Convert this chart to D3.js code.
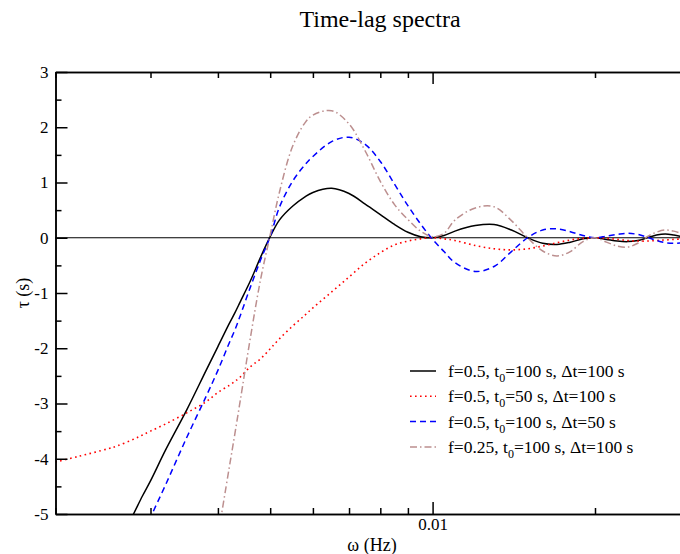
<!DOCTYPE html>
<meta charset="utf-8">
<style>

body {
  margin: 0;
  background: #fff;
}

svg text {
  font-family: "Liberation Serif", "Times New Roman", serif;
  fill: #000;
}

.axis path,
.axis line {
  stroke: #000;
  stroke-width: 1.5px;
}

.curve {
  fill: none;
}

</style>
<body><svg width="680" height="554"></svg></body>
<script src="https://d3js.org/d3.v7.min.js"></script>
<script>

// frequency grid (Hz) and lags (s); null = off the chart
var omega = [0.002, 0.0022, 0.0025, 0.0026, 0.0028, 0.0029, 0.003, 0.0032, 0.0035, 0.0038,
  0.004, 0.0042, 0.0043, 0.0044, 0.0046, 0.0048, 0.005, 0.0052, 0.0055, 0.0058,
  0.006, 0.0065, 0.007, 0.0075, 0.008, 0.0085, 0.009, 0.0095, 0.01, 0.0105,
  0.011, 0.012, 0.013, 0.014, 0.015, 0.016, 0.017, 0.018, 0.019, 0.02,
  0.021, 0.022, 0.023, 0.024, 0.025, 0.026, 0.027, 0.028, 0.029];

var tauA = [null, null, null, -5.6, -4.97, -4.67, -4.40, -3.84, -3.12, -2.41,
  -1.97, -1.55, -1.36, -1.16, -0.77, -0.35, 0.02, 0.32, 0.57, 0.74,
  0.82, 0.895, 0.80, 0.61, 0.42, 0.24, 0.10, 0.02, 0.0, 0.04,
  0.12, 0.22, 0.24, 0.14, 0.0, -0.10, -0.12, -0.08, -0.02, 0.0,
  -0.03, -0.06, -0.07, -0.05, 0.0, 0.05, 0.07, 0.05, 0.02];

var tauB = [-4.06, -3.96, -3.82, -3.77, -3.64, -3.57, -3.50, -3.37, -3.17, -2.97,
  -2.80, -2.67, -2.60, -2.52, -2.33, -2.19, -2.01, -1.83, -1.60, -1.40,
  -1.27, -0.98, -0.71, -0.46, -0.27, -0.13, -0.06, -0.02, 0.0, -0.02,
  -0.05, -0.14, -0.20, -0.22, -0.20, -0.15, -0.09, -0.04, -0.01, 0.0,
  -0.01, -0.03, -0.05, -0.06, -0.06, -0.05, -0.04, -0.03, -0.02];

var tauC = [null, null, null, null, null, -5.45, -5.07, -4.47, -3.62, -2.88,
  -2.40, -1.90, -1.67, -1.41, -0.88, -0.40, 0.02, 0.55, 1.02, 1.32,
  1.47, 1.74, 1.82, 1.69, 1.38, 0.97, 0.58, 0.25, -0.03, -0.25,
  -0.45, -0.61, -0.52, -0.25, 0.0, 0.14, 0.16, 0.11, 0.04, 0.0,
  0.03, 0.06, 0.08, 0.06, 0.01, -0.05, -0.09, -0.10, -0.09];

var tauD = [null, null, null, null, null, null, null, null, null, null,
  -5.40, -4.15, -3.55, -2.95, -1.78, -0.75, 0.05, 0.82, 1.65, 2.08,
  2.22, 2.30, 2.06, 1.57, 1.02, 0.60, 0.33, 0.12, 0.02, 0.08,
  0.32, 0.54, 0.56, 0.31, 0.0, -0.24, -0.33, -0.25, -0.07, 0.0,
  -0.08, -0.15, -0.17, -0.10, 0.02, 0.10, 0.14, 0.12, 0.07];

var labels = ["f=0.5, t|0|=100 s, \u0394t=100 s",
  "f=0.5, t|0|=50 s, \u0394t=100 s",
  "f=0.5, t|0|=100 s, \u0394t=50 s",
  "f=0.25, t|0|=100 s, \u0394t=100 s"];

var yTicks = [-5, -4, -3, -2, -1, 0, 1, 2, 3];
var yMinor = [-4.5, -3.5, -2.5, -1.5, -0.5, 0.5, 1.5, 2.5];
var xMajor = [0.01];
var xMinor = [0.002, 0.003, 0.004, 0.005, 0.006, 0.007, 0.008, 0.009, 0.02, 0.03];

var series = [
  {tau: tauA, color: "#000000", dash: null, width: 1.5},
  {tau: tauB, color: "#ff0000", dash: "1.6,3.4", width: 1.6},
  {tau: tauC, color: "#0000ff", dash: "6,4", width: 1.5},
  {tau: tauD, color: "#bc8f8f", dash: "7,3,1.5,3", width: 1.5}
];

var svg = d3.select("svg"),
    plotL = 55.5, plotR = 690, plotT = 72, plotB = 514;

var x = d3.scaleLog().domain([0.002, 0.03]).range([plotL, plotR]);
var y = d3.scaleLinear().domain([-5, 3]).range([plotB, plotT]);

svg.append("defs").append("clipPath").attr("id", "clip")
  .append("rect")
    .attr("x", plotL).attr("y", plotT)
    .attr("width", plotR - plotL).attr("height", plotB - plotT);

// zero line
svg.append("line")
    .attr("x1", plotL).attr("x2", plotR)
    .attr("y1", y(0)).attr("y2", y(0))
    .attr("stroke", "#000")
    .attr("stroke-width", 1);

var line = d3.line()
    .defined(function(d) { return d[1] != null; })
    .x(function(d) { return x(d[0]); })
    .y(function(d) { return y(d[1]); })
    .curve(d3.curveCatmullRom.alpha(0.5));

svg.append("g").attr("clip-path", "url(#clip)")
  .selectAll("path")
  .data(series)
  .enter().append("path")
    .attr("class", "curve")
    .attr("stroke", function(d) { return d.color; })
    .attr("stroke-width", function(d) { return d.width; })
    .attr("stroke-dasharray", function(d) { return d.dash; })
    .attr("d", function(d) { return line(omega.map(function(w, i) { return [w, d.tau[i]]; })); });

// axes, ticks drawn inwards
function fmt(d) { return String(d); }

svg.append("g").attr("class", "axis").attr("transform", "translate(0," + plotB + ")")
    .call(d3.axisBottom(x).tickValues(xMajor).tickSize(-12).tickSizeOuter(0).tickPadding(4).tickFormat(fmt));
svg.append("g").attr("class", "axis").attr("transform", "translate(0," + plotB + ")")
    .call(d3.axisBottom(x).tickValues(xMinor).tickSize(-6).tickSizeOuter(0).tickFormat(""));
svg.append("g").attr("class", "axis").attr("transform", "translate(0," + plotT + ")")
    .call(d3.axisTop(x).tickValues(xMajor).tickSize(-12).tickSizeOuter(0).tickFormat(""));
svg.append("g").attr("class", "axis").attr("transform", "translate(0," + plotT + ")")
    .call(d3.axisTop(x).tickValues(xMinor).tickSize(-6).tickSizeOuter(0).tickFormat(""));

svg.append("g").attr("class", "axis").attr("transform", "translate(" + plotL + ",0)")
    .call(d3.axisLeft(y).tickValues(yTicks).tickSize(-12).tickSizeOuter(0).tickPadding(7).tickFormat(fmt));
svg.append("g").attr("class", "axis").attr("transform", "translate(" + plotL + ",0)")
    .call(d3.axisLeft(y).tickValues(yMinor).tickSize(-6).tickSizeOuter(0).tickFormat(""));

svg.selectAll(".axis text")
    .style("font-family", "'Liberation Serif', 'Times New Roman', serif")
    .style("font-size", "17px");

// titles
svg.append("text")
    .attr("x", 380).attr("y", 27)
    .attr("text-anchor", "middle")
    .style("font-size", "24px")
    .text("Time-lag spectra");

svg.append("text")
    .attr("x", 372).attr("y", 551)
    .attr("text-anchor", "middle")
    .style("font-size", "18px")
    .text("\u03c9 (Hz)");

svg.append("text")
    .attr("transform", "translate(29,293) rotate(-90)")
    .attr("text-anchor", "middle")
    .style("font-size", "18px")
    .text("\u03c4 (s)");

// legend
var legend = svg.append("g").selectAll("g")
  .data(series)
  .enter().append("g")
    .attr("transform", function(d, i) { return "translate(410," + (371 + i * 25.3) + ")"; });

legend.append("line")
    .attr("x1", 0).attr("x2", 26)
    .attr("stroke", function(d) { return d.color; })
    .attr("stroke-width", function(d) { return d.width; })
    .attr("stroke-dasharray", function(d) { return d.dash; });

legend.append("text")
    .attr("x", 38).attr("y", 6)
    .style("font-size", "17.5px")
    .each(function(d, i) {
      var parts = labels[i].split("|"), t = d3.select(this);
      t.append("tspan").text(parts[0]);
      t.append("tspan").attr("dy", 5).style("font-size", "12px").text(parts[1]);
      t.append("tspan").attr("dy", -5).text(parts[2]);
    });

</script>
